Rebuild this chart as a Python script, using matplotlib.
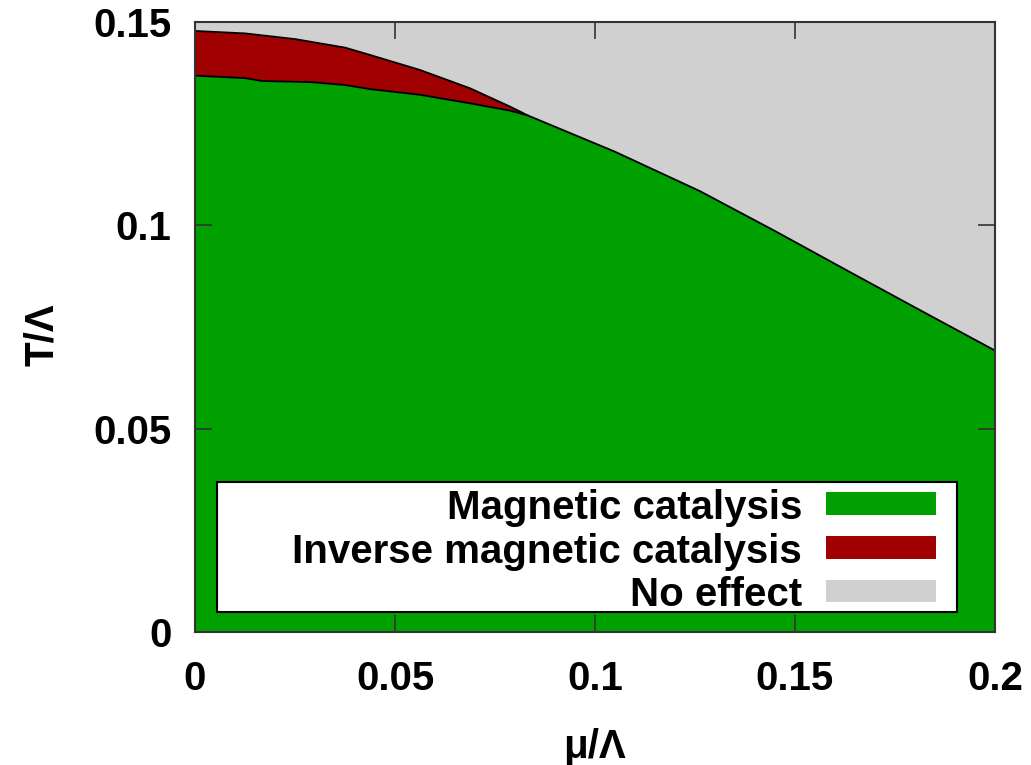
import matplotlib.pyplot as plt
from matplotlib.patches import Rectangle

plt.rcParams['font.family'] = ['Liberation Sans', 'DejaVu Sans']
plt.rcParams['font.weight'] = 'bold'

# Lower boundary: magnetic catalysis region sits below this line
mu_mc = [0.0, 0.0125, 0.0167, 0.0292, 0.0375, 0.04375, 0.05625, 0.06875, 0.07875, 0.08325,
         0.105, 0.12625, 0.145, 0.16375, 0.1804, 0.2]
t_mc = [0.1368, 0.1362, 0.1355, 0.1352, 0.1345, 0.1335, 0.1321, 0.1300, 0.1282, 0.1270,
        0.1181, 0.1084, 0.0986, 0.0885, 0.0796, 0.0692]

# Upper boundary of the inverse magnetic catalysis wedge
mu_imc = [0.0, 0.0125, 0.025, 0.0375, 0.04375, 0.05625, 0.06875, 0.07875, 0.08325]
t_imc = [0.1478, 0.1472, 0.1458, 0.1437, 0.1419, 0.1382, 0.1337, 0.1292, 0.1270]

labels = ["Magnetic catalysis", "Inverse magnetic catalysis", "No effect"]
colors = ["#00a000", "#a00000", "#d0d0d0"]

fig = plt.figure(figsize=(10.31, 7.65), dpi=100)
ax = fig.add_axes([195 / 1031, 133 / 765, 800 / 1031, 610 / 765])
ax.set_facecolor(colors[2])

# green region from T=0 up to the lower boundary
ax.fill_between(mu_mc, 0, t_mc, color=colors[0], lw=0)

# red wedge between the two boundaries
wedge_mu = [m for m in mu_mc if m <= mu_imc[-1]]
wedge_t = t_mc[:len(wedge_mu)]
ax.fill(mu_imc + wedge_mu[::-1], t_imc + wedge_t[::-1], color=colors[1], lw=0)

ax.plot(mu_mc, t_mc, color="black", lw=1.3)
ax.plot(mu_imc, t_imc, color="black", lw=1.3)

ax.set_xlim(0, 0.2)
ax.set_ylim(0, 0.15)
ax.set_xticks([0, 0.05, 0.1, 0.15, 0.2])
ax.set_xticklabels(["0", "0.05", "0.1", "0.15", "0.2"])
ax.set_yticks([0, 0.05, 0.1, 0.15])
ax.set_yticklabels(["0", "0.05", "0.1", "0.15"])
ax.tick_params(direction="in", length=12, width=1.2, top=True, right=True,
               labelsize=29, color="#333333")
ax.tick_params(axis="x", pad=20)
ax.tick_params(axis="y", pad=17)
for s in ax.spines.values():
    s.set_linewidth(1.5)
    s.set_color("#333333")

ax.set_xlabel("μ/Λ", fontsize=29, fontweight="bold")
ax.set_ylabel("T/Λ", fontsize=29, fontweight="bold")
ax.xaxis.set_label_coords(0.5, -0.158)
ax.yaxis.set_label_coords(-0.167, 0.487)

# legend box with labels on the left and swatches on the right
ax.add_patch(Rectangle((0.0275, 0.0328), 0.925, 0.2131, transform=ax.transAxes,
                       facecolor="white", edgecolor="black", lw=1.5, zorder=5))
row_y = [0.2102, 0.1385, 0.0672]
for lab, col, yy in zip(labels, colors, row_y):
    ax.text(0.759, yy, lab, transform=ax.transAxes, ha="right", va="center_baseline",
            fontsize=29, fontweight="bold", zorder=6)
    ax.add_patch(Rectangle((0.7884, yy - 0.0185), 0.1375, 0.037, transform=ax.transAxes,
                           facecolor=col, edgecolor="none", zorder=6))

fig.savefig("out.png", dpi=100)
